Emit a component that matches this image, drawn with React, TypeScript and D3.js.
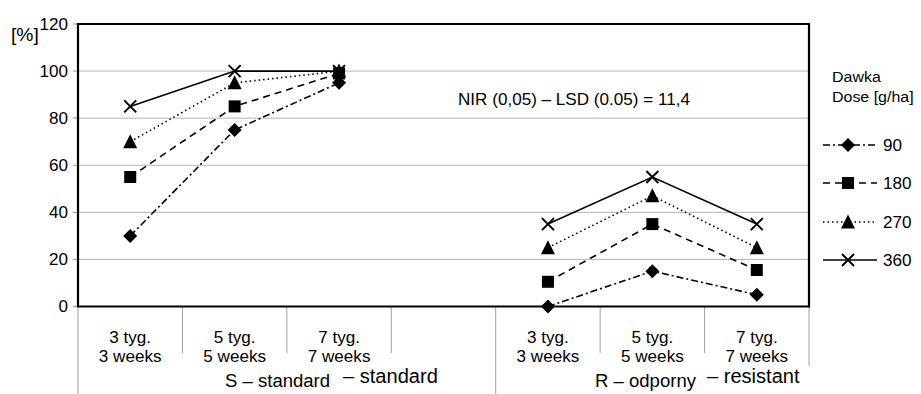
import React from "react";
import * as d3 from "d3";

const slots = ["S3", "S5", "S7", "gap", "R3", "R5", "R7"];
const weekLabelsPl = ["3 tyg.", "5 tyg.", "7 tyg."];
const weekLabelsEn = ["3 weeks", "5 weeks", "7 weeks"];
const groupS = ["S3", "S5", "S7"];
const groupR = ["R3", "R5", "R7"];
const doses = ["90", "180", "270", "360"];
const sValues = [
  [30, 75, 95],
  [55, 85, 99],
  [70, 95, 100],
  [85, 100, 100],
];
const rValues = [
  [0, 15, 5],
  [10.5, 35, 15.5],
  [25, 47, 25],
  [35, 55, 35],
];
const yTicks = [0, 20, 40, 60, 80, 100, 120];
const groupLabels = [
  { a: "S – standard", b: "– standard" },
  { a: "R – odporny", b: "– resistant" },
];
const annotation = "NIR (0,05) – LSD (0.05) = 11,4";
const legendTitle = ["Dawka", "Dose [g/ha]"];

const FONT = "'Liberation Sans', Arial, sans-serif";
const dashes = ["7,3,2,3", "7,5", "1.5,3", null];

function T({
  x,
  y,
  size,
  anchor,
  children,
  sx = 1.07,
}: {
  x: number;
  y: number;
  size: number;
  anchor?: string;
  children: React.ReactNode;
  sx?: number;
}) {
  return (
    <text
      transform={`translate(${x},${y}) scale(${sx},1)`}
      fontSize={size}
      textAnchor={anchor}
      fill="#000"
    >
      {children}
    </text>
  );
}

function Marker({ type, x, y }: { type: number; x: number; y: number }) {
  if (type === 0) {
    const r = 7;
    return <path d={`M${x},${y - r}L${x + r},${y}L${x},${y + r}L${x - r},${y}Z`} fill="#000" />;
  }
  if (type === 1) {
    const s = 12;
    return <rect x={x - s / 2} y={y - s / 2} width={s} height={s} fill="#000" />;
  }
  if (type === 2) {
    const w = 14, h = 13;
    return <path d={`M${x},${y - h / 2 - 1}L${x + w / 2},${y + h / 2}L${x - w / 2},${y + h / 2}Z`} fill="#000" />;
  }
  const r = 6;
  return (
    <path
      d={`M${x - r},${y - r}L${x + r},${y + r}M${x - r},${y + r}L${x + r},${y - r}`}
      stroke="#000"
      strokeWidth={2}
    />
  );
}

export default function App() {
  const left = 78, right = 809, top = 24, bottom = 306.5;
  const x = d3.scaleBand<string>().domain(slots).range([left, right]).padding(0);
  const y = d3.scaleLinear().domain([0, 120]).range([bottom, top]);
  const bw = x.bandwidth();
  const cx = (s: string) => (x(s) as number) + bw / 2;
  const line = d3
    .line<[number, number]>()
    .x((d) => d[0])
    .y((d) => d[1]);

  const boundaries = d3.range(slots.length + 1).map((i) => left + i * bw);

  const legendRows = [145, 183, 222, 260];

  return (
    <svg
      width={921}
      height={394}
      style={{ position: "absolute", left: 0, top: 0, background: "#fff" }}
      fontFamily={FONT}
    >
      {/* gridlines */}
      {yTicks.slice(1, -1).map((t) => (
        <line key={t} x1={left} x2={right} y1={y(t)} y2={y(t)} stroke="#b4b4b4" strokeWidth={1} />
      ))}
      {/* y ticks */}
      {yTicks.map((t) => (
        <g key={"t" + t}>
          <line x1={left - 5} x2={left} y1={y(t)} y2={y(t)} stroke="#999" />
          <T x={68} y={y(t) + 5.5} size={16} anchor="end">
            {t}
          </T>
        </g>
      ))}
      <T x={11} y={41} size={18}>[%]</T>

      {/* category separators */}
      {boundaries.map((b, i) => {
        let y2 = 353;
        if (i === 0 || i === 4) y2 = 394;
        if (i === boundaries.length - 1) y2 = 366;
        return <line key={"b" + i} x1={b} x2={b} y1={bottom} y2={y2} stroke="#a0a0a0" strokeWidth={1} />;
      })}

      {/* category labels */}
      {[...groupS, ...groupR].map((s, i) => (
        <g key={"c" + s}>
          <T x={cx(s)} y={343} size={16} anchor="middle">
            {weekLabelsPl[i % 3]}
          </T>
          <T x={cx(s)} y={361.5} size={16} anchor="middle">
            {weekLabelsEn[i % 3]}
          </T>
        </g>
      ))}

      {/* group labels */}
      <T x={225} y={387} size={18} sx={1.03}>{groupLabels[0].a}</T>
      <T x={343} y={383} size={19.5} sx={1.03}>{groupLabels[0].b}</T>
      <T x={595} y={387} size={18} sx={1.03}>{groupLabels[1].a}</T>
      <T x={707} y={383} size={19.5} sx={1.03}>{groupLabels[1].b}</T>

      {/* plot frame */}
      <path
        d={`M${left},${bottom}L${left},${top}L${right},${top}L${right},${bottom}Z`}
        fill="none"
        stroke="#000"
        strokeWidth={2.2}
      />

      {/* annotation */}
      <T x={458} y={105} size={16}>{annotation}</T>

      {/* series */}
      {doses.map((d, k) => {
        const ptsS: [number, number][] = groupS.map((s, i) => [cx(s), y(sValues[k][i])]);
        const ptsR: [number, number][] = groupR.map((s, i) => [cx(s), y(rValues[k][i])]);
        return (
          <g key={"s" + d}>
            {[ptsS, ptsR].map((pts, j) => (
              <path
                key={j}
                d={line(pts) as string}
                fill="none"
                stroke="#000"
                strokeWidth={1.6}
                strokeDasharray={dashes[k] ?? undefined}
              />
            ))}
            {[...ptsS, ...ptsR].map((p, i) => (
              <Marker key={i} type={k} x={p[0]} y={p[1]} />
            ))}
          </g>
        );
      })}

      {/* legend */}
      <T x={832} y={82} size={15.5} sx={1.03}>{legendTitle[0]}</T>
      <T x={832} y={102} size={15.5} sx={1.03}>{legendTitle[1]}</T>
      {doses.map((d, k) => (
        <g key={"l" + d}>
          <line
            x1={823}
            x2={877}
            y1={legendRows[k]}
            y2={legendRows[k]}
            stroke="#000"
            strokeWidth={1.6}
            strokeDasharray={dashes[k] ?? undefined}
          />
          <Marker type={k} x={848} y={legendRows[k]} />
          <T x={883} y={legendRows[k] + 5.5} size={16}>
            {d}
          </T>
        </g>
      ))}
    </svg>
  );
}
